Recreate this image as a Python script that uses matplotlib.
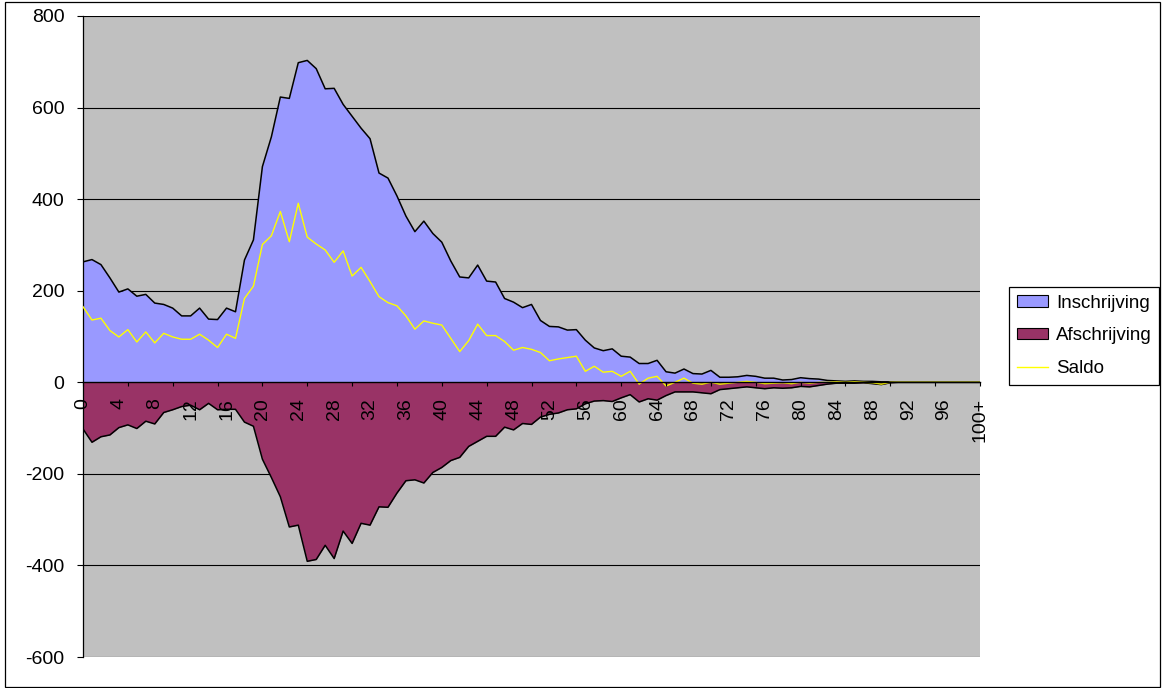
import numpy as np
import matplotlib
matplotlib.use("Agg")
import matplotlib.pyplot as plt
from matplotlib.patches import Patch, Rectangle
from matplotlib.lines import Line2D

plt.rcParams['font.family'] = ['Liberation Sans', 'DejaVu Sans']
plt.rcParams['axes.unicode_minus'] = False

# categories 0 .. 99, 100+
ages = [str(a) for a in range(100)] + ['100+']

inschrijving = [263, 268, 257, 228, 197, 204, 188, 192, 173, 170,
                162, 145, 145, 162, 138, 137, 162, 154, 267, 311,
                471, 536, 623, 620, 698, 703, 685, 641, 642, 607,
                581, 555, 532, 457, 446, 407, 363, 329, 352, 325,
                306, 265, 230, 228, 256, 221, 219, 183, 175, 163,
                170, 135, 122, 121, 114, 115, 92, 75, 69, 73,
                57, 55, 41, 41, 48, 23, 20, 29, 19, 18,
                26, 11, 11, 12, 15, 13, 9, 9, 5, 6,
                10, 8, 7, 4, 3, 2, 3, 2, 2, 1,
                1, 0, 0, 0, 0, 0, 0, 0, 0, 0, 0]

afschrijving = [-102, -131, -119, -115, -99, -93, -101, -85, -91, -66,
                -60, -53, -50, -60, -46, -60, -59, -59, -87, -96,
                -168, -208, -250, -316, -312, -391, -387, -356, -385, -325,
                -352, -308, -312, -272, -273, -242, -215, -213, -220, -197,
                -186, -171, -164, -140, -129, -118, -118, -98, -104, -90,
                -92, -76, -70, -67, -60, -58, -47, -41, -40, -42,
                -34, -27, -43, -36, -39, -29, -21, -21, -21, -23,
                -25, -16, -14, -12, -10, -12, -14, -12, -13, -12,
                -9, -10, -7, -4, -2, -2, -2, -1, -3, -5,
                -1, 0, 0, 0, 0, 0, 0, 0, 0, 0, 0]

saldo = [165, 136, 140, 113, 99, 115, 88, 110, 86, 107,
         99, 94, 94, 105, 92, 76, 105, 96, 183, 210,
         301, 320, 373, 307, 391, 317, 302, 289, 262, 287,
         232, 251, 220, 187, 174, 167, 145, 116, 134, 129,
         125, 96, 67, 91, 127, 102, 102, 89, 70, 76,
         72, 65, 47, 51, 54, 57, 24, 35, 22, 24,
         13, 24, -4, 9, 13, -8, 0, 9, -2, -4,
         0, -4, -2, 0, 2, 0, -3, -2, -1, -3,
         0, -2, 0, 0, 1, 0, 1, 0, -1, -4,
         0, 0, 0, 0, 0, 0, 0, 0, 0, 0, 0]

x = np.arange(len(ages))
yticks = list(range(-600, 801, 200))

W, H = 1163, 688
fig = plt.figure(figsize=(W / 100, H / 100), dpi=100)
ax = fig.add_axes([83 / W, 1 - 657 / H, (980 - 83) / W, (657 - 16) / H])
ax.set_facecolor('#C0C0C0')

# gridlines behind the areas
for yv in yticks:
    ax.axhline(yv, color='black', lw=0.8, zorder=1)

ax.fill_between(x, 0, inschrijving, color='#9999FF', lw=0, zorder=2)
ax.plot(x, inschrijving, color='black', lw=1.1, zorder=3)
ax.fill_between(x, afschrijving, 0, color='#993366', lw=0, zorder=2)
ax.plot(x, afschrijving, color='black', lw=1.1, zorder=3)
ax.plot(x, saldo, color='#FFFF00', lw=1.0, zorder=4)

ax.set_xlim(0, 100)
ax.set_ylim(-600, 800)
ax.set_yticks(yticks)
ax.tick_params(axis='y', direction='out', length=4.3, width=0.8, pad=9, labelsize=14)

ax.spines['bottom'].set_position(('data', 0))
ax.spines['top'].set_visible(False)
ax.spines['right'].set_visible(False)
ax.spines['left'].set_linewidth(0.9)
ax.spines['bottom'].set_linewidth(1.0)
ax.spines['bottom'].set_zorder(5)

ax.xaxis.remove_overlapping_locs = False
ax.set_xticks(x[::4])
ax.set_xticklabels(ages[::4], rotation=90, fontsize=14)
ax.set_xticks(x[::5], minor=True)
ax.tick_params(axis='x', which='major', length=0, pad=11.5)
ax.tick_params(axis='x', which='minor', direction='out', length=3, width=0.8)
ax.xaxis.set_zorder(6)

handles = [Patch(facecolor='#9999FF', edgecolor='black', lw=0.8),
           Patch(facecolor='#993366', edgecolor='black', lw=0.8),
           Line2D([], [], color='#FFFF00', lw=1.0)]
leg = fig.legend(handles, ['Inschrijving', 'Afschrijving', 'Saldo'],
                 loc='upper left', bbox_to_anchor=(1009 / W, 1 - 287 / H),
                 borderaxespad=0, fancybox=False, framealpha=1,
                 edgecolor='black', fontsize=13.5, handlelength=1.7,
                 handleheight=0.55, handletextpad=0.4, labelspacing=0.85,
                 borderpad=0.4)
leg.get_frame().set_linewidth(0.9)

fig.patches.append(Rectangle((5 / W, 1 / H), (1160 - 5) / W, (686 - 1) / H,
                             transform=fig.transFigure, fill=False,
                             edgecolor='black', lw=0.9))

fig.savefig('out.png', dpi=100)
